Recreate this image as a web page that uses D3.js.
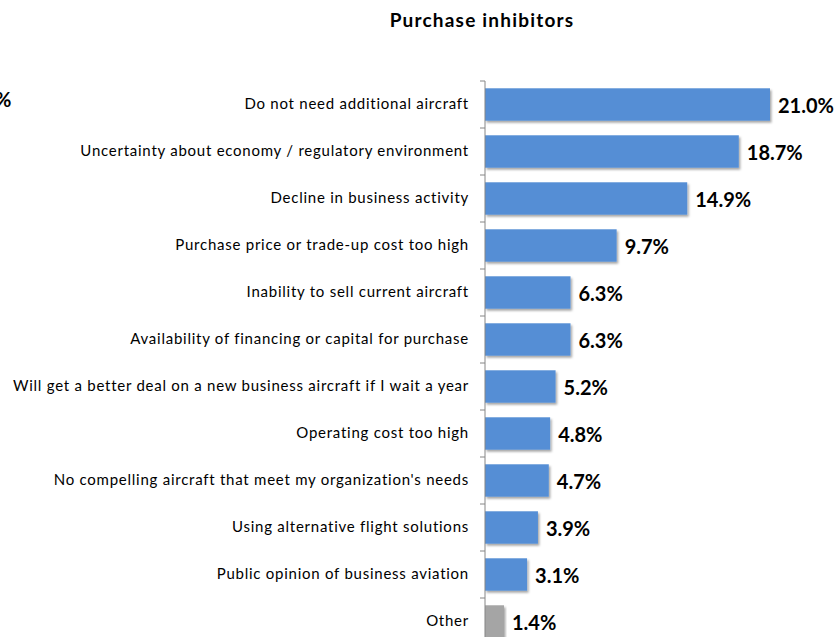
<!DOCTYPE html>
<html><head><meta charset="utf-8">
<script src="https://cdn.jsdelivr.net/npm/d3@7"></script>
<style>body{margin:0;background:#fff;}svg{display:block;font-family:Lato,"Open Sans",sans-serif;}</style>
</head><body>
<svg id="c" width="840" height="637"></svg>
<script>
const categories = [
  "Do not need additional aircraft",
  "Uncertainty about economy / regulatory environment",
  "Decline in business activity",
  "Purchase price or trade-up cost too high",
  "Inability to sell current aircraft",
  "Availability of financing or capital for purchase",
  "Will get a better deal on a new business aircraft if I wait a year",
  "Operating cost too high",
  "No compelling aircraft that meet my organization's needs",
  "Using alternative flight solutions",
  "Public opinion of business aviation",
  "Other"
];
const values = [21.0, 18.7, 14.9, 9.7, 6.3, 6.3, 5.2, 4.8, 4.7, 3.9, 3.1, 1.4];
const title = "Purchase inhibitors";

const svg = d3.select("#c");
const x = d3.scaleLinear().domain([0, 21]).range([485, 770]);
const y = d3.scaleBand().domain(categories).range([81, 81 + 47 * categories.length]).paddingInner(0.31).paddingOuter(0.155);

const defs = svg.append("defs");
const f = defs.append("filter").attr("id","sh").attr("x","-5%").attr("y","-20%").attr("width","120%").attr("height","160%");
f.append("feDropShadow").attr("dx",1.5).attr("dy",2).attr("stdDeviation",1.2).attr("flood-color","#000").attr("flood-opacity",0.35);

svg.append("text").attr("x",482).attr("y",27).attr("text-anchor","middle")
  .attr("font-size",19).attr("letter-spacing",1.2).attr("font-weight","bold").attr("fill","#000").text(title);

svg.append("text").attr("x",-5).attr("y",107).attr("font-size",20).attr("font-weight","bold").attr("fill","#000").text("%");

svg.selectAll("rect.bar").data(values).join("rect").attr("class","bar")
  .attr("x", x(0)).attr("y",(d,i)=>y(categories[i]))
  .attr("width", d=>x(d)-x(0)).attr("height", y.bandwidth())
  .attr("fill",(d,i)=> categories[i]==="Other" ? "#a5a5a5" : "#558ed5")
  .attr("filter","url(#sh)");

// axis
const ax = svg.append("g").attr("transform",`translate(${x(0)},0)`);
ax.append("line").attr("x1",0).attr("x2",0).attr("y1",81).attr("y2",637).attr("stroke","#868686").attr("stroke-width",1);
const ticks = d3.range(categories.length+1).map(i=>81+i*y.step());
ax.selectAll("line.t").data(ticks).join("line").attr("class","t")
  .attr("x1",-5).attr("x2",0).attr("y1",d=>d).attr("y2",d=>d).attr("stroke","#868686");

svg.selectAll("text.cat").data(categories).join("text").attr("class","cat")
  .attr("x",469).attr("y",d=>y(d)+y.bandwidth()/2-1).attr("dy","0.35em")
  .attr("text-anchor","end").attr("font-size",15).attr("letter-spacing",0.75).attr("fill","#000").text(d=>d);

svg.selectAll("text.val").data(values).join("text").attr("class","val")
  .attr("x",d=>x(d)+8).attr("y",(d,i)=>y(categories[i])+y.bandwidth()/2+1).attr("dy","0.35em")
  .attr("font-size",20).attr("font-weight","bold").attr("fill","#000").text(d=>d.toFixed(1)+"%");
</script>
</body></html>
